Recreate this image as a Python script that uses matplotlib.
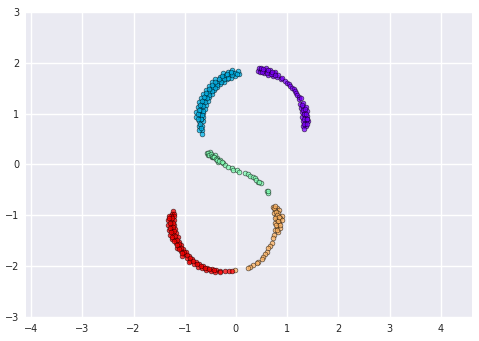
import matplotlib
matplotlib.use("Agg")
import matplotlib.pyplot as plt
import numpy as np

# cluster 0 (purple, upper right arc)
purple_x = [0.439, 0.446, 0.471, 0.481, 0.484, 0.554, 0.569, 0.580, 0.632, 0.652, 0.669,
            0.715, 0.740, 0.757, 0.800, 0.825, 0.885, 0.903, 0.962, 1.000, 1.028, 1.065,
            1.089, 1.131, 1.144, 1.182, 1.201, 1.227, 1.233, 1.269, 1.259, 1.306, 1.266,
            1.314, 1.363, 1.285, 1.344, 1.393, 1.296, 1.346, 1.396, 1.310, 1.360, 1.400,
            1.316, 1.366, 1.330, 0.520, 0.610, 0.700, 1.330, 1.380, 1.350,
            0.516, 0.529, 0.601, 0.619, 0.687, 0.706, 0.771, 1.305, 1.354, 1.321,
            1.370, 1.329, 1.379, 1.339, 1.389, 1.292]
purple_y = [1.840, 1.890, 1.815, 1.874, 1.894, 1.797, 1.855, 1.893, 1.762, 1.818, 1.865,
            1.738, 1.792, 1.828, 1.716, 1.759, 1.685, 1.710, 1.639, 1.603, 1.578, 1.539,
            1.512, 1.476, 1.441, 1.401, 1.370, 1.322, 1.286, 1.303, 1.199, 1.216, 1.109,
            1.122, 1.135, 1.024, 1.034, 1.043, 0.937, 0.941, 0.946, 0.850, 0.850, 0.850,
            0.761, 0.757, 0.705, 1.840, 1.820, 1.790, 0.990, 0.900, 0.800,
            1.826, 1.885, 1.804, 1.861, 1.783, 1.829, 1.755, 1.072, 1.083, 0.985,
            0.991, 0.895, 0.898, 0.804, 0.802, 1.163]

# cluster 1 (cyan, upper left arc)
cyan_x = [0.051, 0.036, -0.025, -0.049, -0.069, -0.098, -0.127, -0.157, -0.175, -0.210,
          -0.245, -0.240, -0.274, -0.314, -0.311, -0.356, -0.401, -0.365, -0.414, -0.464,
          -0.428, -0.481, -0.535, -0.470, -0.527, -0.585, -0.523, -0.583, -0.644, -0.552,
          -0.615, -0.678, -0.593, -0.659, -0.725, -0.608, -0.676, -0.743, -0.636, -0.705,
          -0.774, -0.636, -0.706, -0.776, -0.650, -0.730, -0.656, -0.726, -0.655, -0.715,
          -0.666, -0.090, -0.190, -0.280, -0.370, -0.450, -0.530, -0.600, -0.660, -0.700,
          -0.710, -0.690, -0.700, -0.020, 0.020,
          -0.075, -0.102, -0.148, -0.180, -0.226, -0.264, -0.291, -0.339, -0.362, -0.410,
          -0.415, -0.474, -0.477, -0.533, -0.518, -0.585, -0.569, -0.631, -0.596, -0.670,
          -0.635, -0.702, -0.647, -0.725, -0.671, -0.741, -0.679, -0.749, -0.691]
cyan_y = [1.777, 1.835, 1.743, 1.809, 1.865, 1.702, 1.765, 1.828, 1.673, 1.733,
          1.794, 1.620, 1.669, 1.726, 1.578, 1.631, 1.685, 1.515, 1.564, 1.614,
          1.461, 1.506, 1.551, 1.390, 1.430, 1.470, 1.325, 1.360, 1.395, 1.248,
          1.277, 1.307, 1.175, 1.199, 1.223, 1.093, 1.112, 1.130, 1.015, 1.027,
          1.040, 0.932, 0.938, 0.944, 0.850, 0.850, 0.766, 0.760, 0.681, 0.671,
          0.591, 1.800, 1.760, 1.700, 1.600, 1.520, 1.420, 1.300, 1.180, 1.070,
          0.980, 0.900, 0.800, 1.800, 1.790,
          1.756, 1.820, 1.710, 1.772, 1.676, 1.735, 1.619, 1.683, 1.572, 1.624,
          1.506, 1.560, 1.447, 1.489, 1.371, 1.414, 1.303, 1.335, 1.222, 1.252,
          1.145, 1.166, 1.060, 1.077, 0.978, 0.988, 0.893, 0.896, 0.719]

# cluster 2 (green, middle stroke)
green_x = [-0.573, -0.540, -0.508, -0.475, -0.410, -0.377, -0.345, -0.313, -0.247, -0.215,
           -0.150, -0.085, -0.052, 0.013, 0.065, 0.176, 0.228, 0.273, 0.339, 0.371,
           0.436, 0.482, 0.599, 0.632, -0.550, -0.520, -0.490, -0.460, -0.440, -0.420,
           -0.390, -0.360, -0.330, -0.280, 0.400, 0.460, 0.620]
green_y = [0.233, 0.187, 0.252, 0.154, 0.187, 0.122, 0.056, 0.089, 0.023, -0.010,
           -0.043, -0.075, -0.108, -0.108, -0.141, -0.174, -0.187, -0.226, -0.252, -0.272,
           -0.338, -0.371, -0.515, -0.555, 0.220, 0.190, 0.200, 0.160, 0.140, 0.150,
           0.110, 0.090, 0.070, 0.040, -0.300, -0.350, -0.530]

# cluster 3 (orange, lower right arc)
orange_x = [0.729, 0.794, 0.762, 0.840, 0.749, 0.827, 0.892, 0.775, 0.859, 0.794,
            0.892, 0.762, 0.840, 0.794, 0.859, 0.762, 0.814, 0.749, 0.729, 0.697,
            0.664, 0.632, 0.599, 0.566, 0.534, 0.501, 0.436, 0.404, 0.339, 0.273,
            0.228, -0.020, 0.740, 0.780, 0.810, 0.760, 0.820, 0.780, 0.870, 0.800,
            0.770, 0.850]
orange_y = [-0.830, -0.850, -0.896, -0.896, -0.961, -0.961, -1.007, -1.027, -1.060, -1.093,
            -1.093, -1.158, -1.158, -1.224, -1.257, -1.289, -1.322, -1.388, -1.453, -1.552,
            -1.598, -1.650, -1.716, -1.768, -1.814, -1.860, -1.913, -1.945, -1.978, -2.012,
            -2.044, -2.077, -0.860, -0.930, -0.990, -1.060, -1.120, -1.200, -1.190, -1.280,
            -0.820, -1.030]

# cluster 4 (red, lower left arc)
red_x = [-1.225, -1.243, -1.213, -1.206, -1.266, -1.316, -1.200, -1.260, -1.320, -1.206,
         -1.266, -1.326, -1.185, -1.244, -1.304, -1.176, -1.234, -1.283, -1.141, -1.198,
         -1.245, -1.117, -1.171, -1.069, -1.121, -1.155, -1.031, -1.080, -0.971, -1.017,
         -1.047, -0.920, -0.962, -0.850, -0.889, -0.914, -0.788, -0.823, -0.715, -0.745,
         -0.635, -0.660, -0.559, -0.576, -0.474, -0.487, -0.392, -0.399, -0.306, -0.309,
         -0.220, -0.133, -0.081,
         -1.239, -1.299, -1.229, -1.289, -1.231, -1.290, -1.206, -1.264, -1.184, -1.241,
         -1.153, -1.209, -1.116, -1.160, -1.071, -1.114, -1.021, -1.061, -0.964, -0.903,
         -0.835, -0.768, -0.687, -0.607, -0.524, -0.436]
red_y = [-0.923, -0.974, -0.978, -1.014, -1.009, -1.004, -1.100, -1.100, -1.100, -1.186,
         -1.191, -1.197, -1.271, -1.281, -1.291, -1.356, -1.372, -1.385, -1.435, -1.456,
         -1.473, -1.519, -1.544, -1.590, -1.620, -1.640, -1.668, -1.703, -1.730, -1.769,
         -1.794, -1.800, -1.842, -1.851, -1.897, -1.927, -1.911, -1.960, -1.957, -2.009,
         -1.988, -2.042, -2.031, -2.078, -2.047, -2.095, -2.075, -2.115, -2.086, -2.116,
         -2.090, -2.096, -2.090,
         -1.055, -1.052, -1.144, -1.147, -1.234, -1.241, -1.318, -1.331, -1.404, -1.422,
         -1.487, -1.510, -1.567, -1.590, -1.642, -1.669, -1.715, -1.746, -1.783, -1.844,
         -1.901, -1.960, -1.996, -2.033, -2.064, -2.076]

clusters = [(purple_x, purple_y), (cyan_x, cyan_y), (green_x, green_y),
            (orange_x, orange_y), (red_x, red_y)]
colors = plt.cm.rainbow(np.linspace(0, 1, len(clusters)))

plt.rcParams['font.family'] = ['DejaVu Sans']
fig = plt.figure(figsize=(4.79, 3.41), dpi=100)
ax = fig.add_axes([0.0543, 0.0704, 0.931, 0.8944])
ax.set_facecolor('#EAEAF2')
for s in ax.spines.values():
    s.set_visible(False)
ax.grid(True, color='white', linewidth=1)
ax.set_axisbelow(True)

for (xs, ys), c in zip(clusters, colors):
    ax.scatter(xs, ys, s=12, color=c, edgecolors='k', linewidths=0.4, alpha=0.75)

ax.set_xlim(-4.1, 4.61)
ax.set_ylim(-3, 3)
ax.set_xticks(range(-4, 5))
ax.set_yticks(range(-3, 4))
ax.tick_params(length=0, labelsize=7, labelcolor='#262626', pad=5)

fig.savefig('out.png', dpi=100)
